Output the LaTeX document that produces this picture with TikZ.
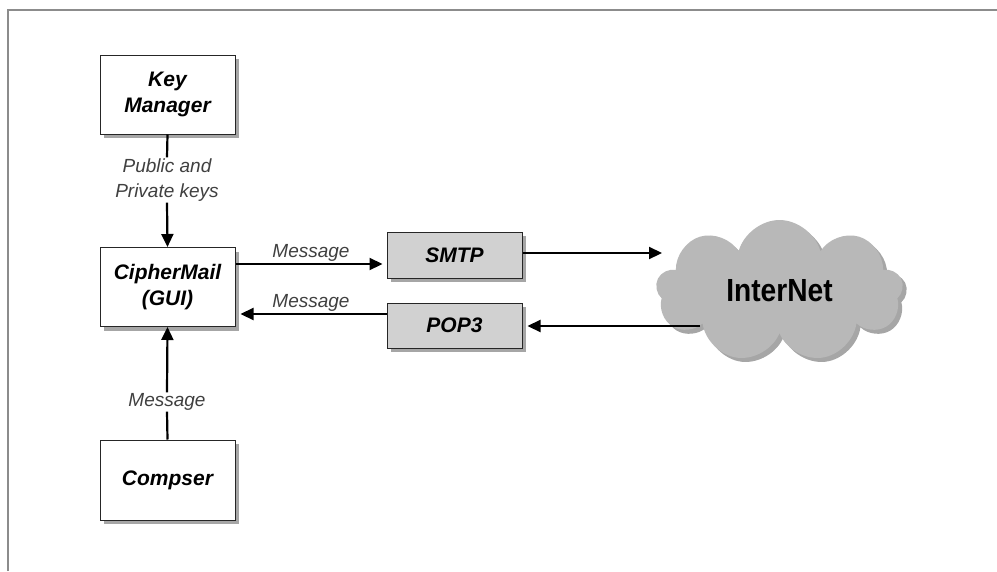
\documentclass[tikz,border=0pt]{standalone}
\usepackage{fontspec}
\setmainfont{Liberation Sans}
\newfontfamily\condfont{Liberation Sans}[FakeStretch=0.88]
\usetikzlibrary{shapes.symbols,shadows,arrows.meta}
\begin{document}
\begin{tikzpicture}[x=1pt,y=-1pt,
 shad/.style={drop shadow={shadow xshift=4pt, shadow yshift=-4pt, fill=black, opacity=0.35}},
 box/.style={draw=black!85, line width=1pt, fill=white, minimum width=135pt, minimum height=79pt,
   align=center, font=\fontsize{21}{26}\selectfont\bfseries\itshape, inner sep=0pt, shad},
 gbox/.style={box, fill=black!18, minimum height=46pt},
 lab/.style={font=\fontsize{19}{25}\selectfont\itshape, text=black!75, align=center, inner sep=1pt},
 arr/.style={line width=2.2pt, -{Triangle[length=13pt,width=12pt]}},
 ln/.style={line width=2.2pt}]
\useasboundingbox (0,0) rectangle (997,571);
\fill[white] (0,0) rectangle (997,571);
\draw[black!45, line width=2.5pt] (8,571) -- (8,10) -- (997,10);

\node[box] (km) at (167.5,94.5) {Key\\Manager};
\node[box] (cm) at (167.5,287) {CipherMail\\(GUI)};
\node[box, minimum height=80pt] (co) at (167.5,480) {Compser};
\node[gbox] (smtp) at (454.5,255) {SMTP};
\node[gbox, minimum height=45pt] (pop) at (454.5,325.5) {POP3};
\node[cloud, cloud puffs=9, aspect=1.7, fill=black!28, minimum width=247pt, minimum height=142pt,
  shad, font=\condfont\fontsize{32}{32}\selectfont\bfseries] (net) at (779.5,291) {InterNet};

\node[lab] (kl) at (167,180) {Public and\\Private keys};
\draw[ln] (km.south) -- (kl.north);
\draw[arr] (kl.south) -- (cm.north);

\node[lab] (cl) at (167,402) {Message};
\draw[ln] (co.north) -- (cl.south);
\draw[arr] (cl.north) -- (cm.south);

\coordinate (a1) at ([yshift=23pt]cm.east);
\draw[arr, shorten >=4pt] (a1) -- (a1 -| smtp.west) node[midway, above, lab] {Message};
\coordinate (a2) at ([yshift=-27pt]cm.east);
\draw[arr, shorten >=5pt] (a2 -| pop.west) -- (a2) node[midway, above, lab] {Message};

\coordinate (n1) at (662,253);
\draw[arr] (smtp.east |- n1) -- (n1);
\coordinate (n2) at (700,326);
\draw[arr, shorten >=5pt] (n2) -- (n2 -| pop.east);
\end{tikzpicture}
\end{document}
